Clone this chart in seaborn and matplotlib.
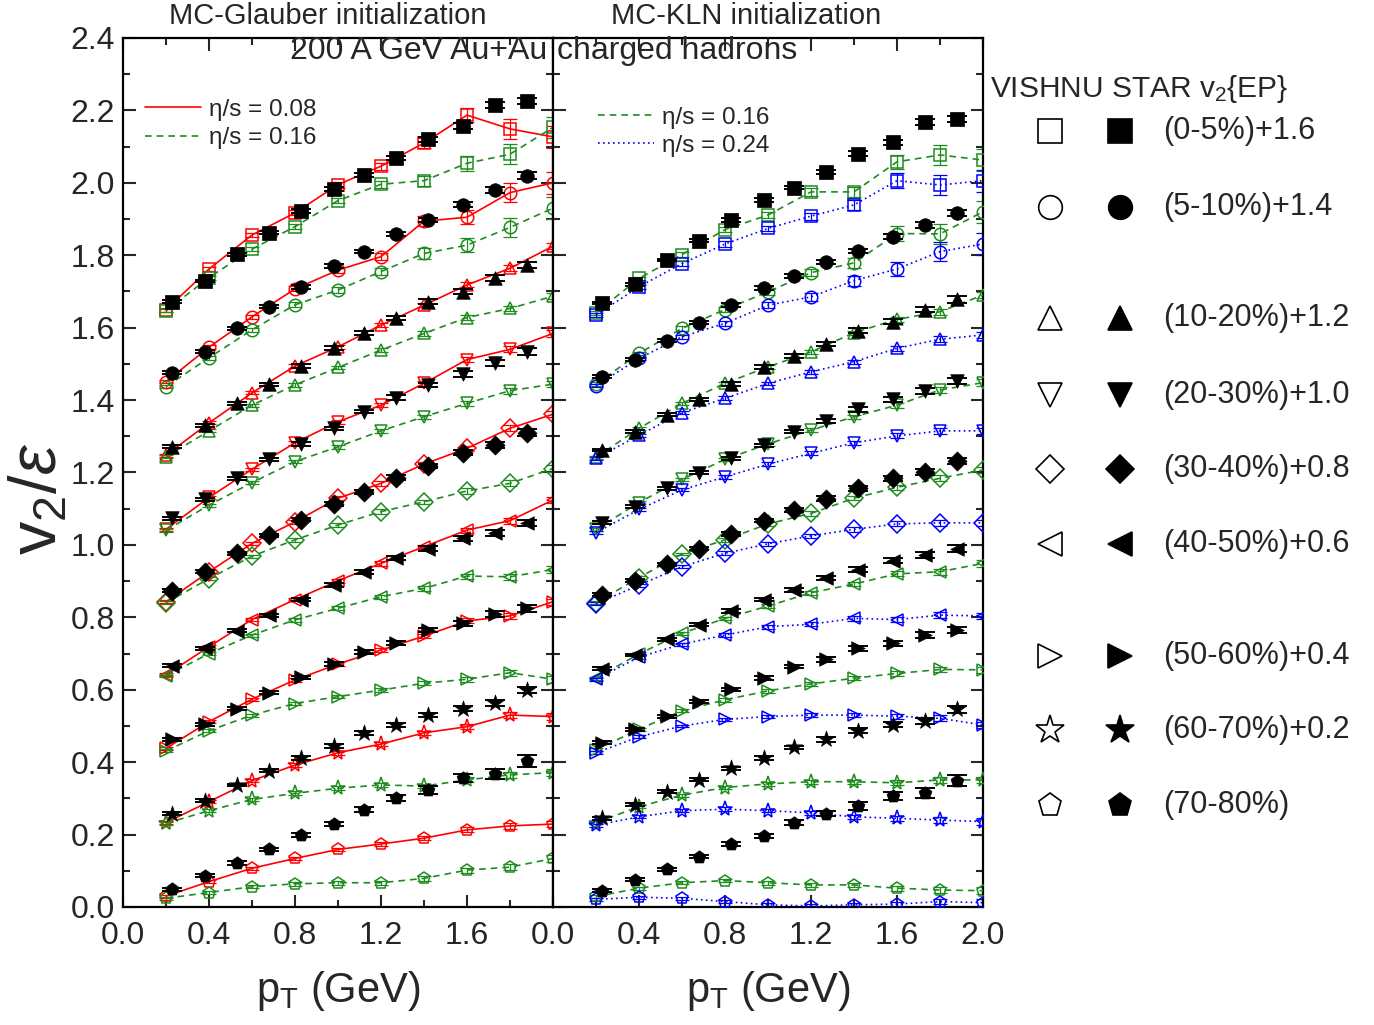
import matplotlib
matplotlib.use("Agg")
import matplotlib.pyplot as plt
import seaborn as sns
from matplotlib.lines import Line2D
from matplotlib.ticker import MultipleLocator, FormatStrFormatter

sns.set_theme(style="ticks")
plt.rcParams['font.family'] = ['Liberation Sans', 'DejaVu Sans']
plt.rcParams['mathtext.fontset'] = 'custom'
plt.rcParams['mathtext.rm'] = 'Liberation Sans'
plt.rcParams['mathtext.it'] = 'Liberation Sans:italic'

# ---------------- data ----------------
centralities = ['(0-5%)+1.6', '(5-10%)+1.4', '(10-20%)+1.2', '(20-30%)+1.0', '(30-40%)+0.8',
                '(40-50%)+0.6', '(50-60%)+0.4', '(60-70%)+0.2', '(70-80%)']
markers = ['s', 'o', '^', 'v', 'D', '<', '>', '*', 'p']

pt_theory = [0.2, 0.4, 0.6, 0.8, 1.0, 1.2, 1.4, 1.6, 1.8, 2.0]
pt_star = [0.23, 0.38, 0.53, 0.68, 0.83, 0.98, 1.12, 1.27, 1.42, 1.58, 1.73, 1.88]

glauber_eta008 = [
    [1.649, 1.762, 1.856, 1.917, 1.995, 2.046, 2.110, 2.187, 2.149, 2.127],
    [1.451, 1.546, 1.630, 1.707, 1.759, 1.796, 1.894, 1.905, 1.973, 2.000],
    [1.248, 1.337, 1.420, 1.494, 1.547, 1.607, 1.662, 1.718, 1.764, 1.825],
    [1.043, 1.131, 1.209, 1.282, 1.340, 1.386, 1.446, 1.512, 1.540, 1.584],
    [0.843, 0.926, 1.004, 1.064, 1.129, 1.170, 1.223, 1.267, 1.322, 1.361],
    [0.641, 0.719, 0.794, 0.849, 0.901, 0.949, 0.995, 1.041, 1.067, 1.124],
    [0.438, 0.512, 0.574, 0.627, 0.671, 0.710, 0.748, 0.790, 0.804, 0.843],
    [0.233, 0.291, 0.349, 0.392, 0.426, 0.450, 0.481, 0.498, 0.530, 0.526],
    [0.030, 0.070, 0.107, 0.134, 0.159, 0.174, 0.190, 0.213, 0.224, 0.229],
]
glauber_eta016 = [
    [1.647, 1.738, 1.817, 1.879, 1.951, 1.996, 2.006, 2.054, 2.079, 2.153],
    [1.437, 1.517, 1.594, 1.663, 1.704, 1.755, 1.805, 1.828, 1.877, 1.930],
    [1.243, 1.315, 1.386, 1.442, 1.490, 1.538, 1.584, 1.628, 1.653, 1.687],
    [1.040, 1.110, 1.172, 1.230, 1.271, 1.315, 1.354, 1.391, 1.426, 1.444],
    [0.840, 0.907, 0.969, 1.014, 1.055, 1.092, 1.119, 1.149, 1.170, 1.211],
    [0.638, 0.700, 0.751, 0.793, 0.825, 0.857, 0.880, 0.914, 0.912, 0.932],
    [0.431, 0.487, 0.530, 0.562, 0.581, 0.599, 0.618, 0.629, 0.647, 0.629],
    [0.231, 0.266, 0.297, 0.314, 0.328, 0.337, 0.334, 0.351, 0.365, 0.371],
    [0.024, 0.040, 0.056, 0.064, 0.067, 0.067, 0.079, 0.102, 0.110, 0.134],
]
kln_eta016 = [
    [1.641, 1.736, 1.802, 1.871, 1.911, 1.975, 1.975, 2.058, 2.077, 2.063],
    [1.444, 1.529, 1.598, 1.650, 1.699, 1.752, 1.779, 1.860, 1.859, 1.920],
    [1.242, 1.322, 1.391, 1.446, 1.492, 1.533, 1.586, 1.623, 1.644, 1.690],
    [1.043, 1.117, 1.181, 1.236, 1.279, 1.317, 1.354, 1.386, 1.428, 1.448],
    [0.840, 0.910, 0.975, 1.014, 1.058, 1.087, 1.129, 1.159, 1.184, 1.207],
    [0.632, 0.699, 0.756, 0.797, 0.831, 0.868, 0.892, 0.920, 0.926, 0.949],
    [0.434, 0.491, 0.542, 0.572, 0.597, 0.616, 0.632, 0.645, 0.656, 0.655],
    [0.233, 0.277, 0.309, 0.330, 0.340, 0.346, 0.346, 0.343, 0.351, 0.351],
    [0.029, 0.052, 0.067, 0.073, 0.067, 0.061, 0.061, 0.052, 0.047, 0.045],
]
kln_eta024 = [
    [1.635, 1.713, 1.777, 1.831, 1.874, 1.908, 1.939, 2.006, 1.994, 2.006],
    [1.440, 1.515, 1.575, 1.612, 1.662, 1.685, 1.730, 1.762, 1.810, 1.831],
    [1.239, 1.303, 1.365, 1.405, 1.446, 1.478, 1.506, 1.543, 1.568, 1.580],
    [1.034, 1.098, 1.152, 1.188, 1.223, 1.253, 1.282, 1.301, 1.315, 1.315],
    [0.837, 0.889, 0.940, 0.977, 1.003, 1.025, 1.043, 1.058, 1.061, 1.061],
    [0.629, 0.690, 0.726, 0.751, 0.774, 0.781, 0.797, 0.794, 0.806, 0.804],
    [0.426, 0.470, 0.500, 0.518, 0.526, 0.530, 0.530, 0.527, 0.521, 0.503],
    [0.226, 0.249, 0.266, 0.270, 0.266, 0.260, 0.249, 0.245, 0.240, 0.236],
    [0.021, 0.027, 0.024, 0.015, 0.006, 0.003, 0.006, 0.008, 0.015, 0.012],
]
star_glauber = [
    [1.672, 1.729, 1.803, 1.862, 1.923, 1.983, 2.022, 2.068, 2.120, 2.157, 2.215, 2.226],
    [1.475, 1.533, 1.598, 1.658, 1.713, 1.771, 1.810, 1.859, 1.897, 1.939, 1.980, 2.020],
    [1.271, 1.331, 1.391, 1.444, 1.494, 1.543, 1.586, 1.626, 1.672, 1.699, 1.738, 1.773],
    [1.073, 1.126, 1.184, 1.236, 1.279, 1.322, 1.368, 1.407, 1.442, 1.472, 1.503, 1.534],
    [0.873, 0.926, 0.977, 1.027, 1.070, 1.113, 1.147, 1.186, 1.218, 1.255, 1.276, 1.310],
    [0.666, 0.714, 0.763, 0.806, 0.849, 0.889, 0.926, 0.963, 0.990, 1.018, 1.034, 1.060],
    [0.463, 0.505, 0.548, 0.592, 0.634, 0.671, 0.705, 0.730, 0.765, 0.783, 0.809, 0.825],
    [0.257, 0.293, 0.337, 0.376, 0.411, 0.445, 0.480, 0.503, 0.530, 0.548, 0.564, 0.599],
    [0.049, 0.086, 0.122, 0.159, 0.199, 0.229, 0.268, 0.300, 0.323, 0.355, 0.367, 0.404],
]
star_kln = [
    [1.668, 1.720, 1.787, 1.840, 1.897, 1.952, 1.987, 2.030, 2.081, 2.112, 2.167, 2.176],
    [1.465, 1.512, 1.564, 1.614, 1.662, 1.709, 1.743, 1.782, 1.812, 1.851, 1.883, 1.917],
    [1.262, 1.313, 1.359, 1.402, 1.444, 1.492, 1.522, 1.555, 1.592, 1.616, 1.650, 1.678],
    [1.061, 1.105, 1.156, 1.199, 1.239, 1.275, 1.313, 1.343, 1.374, 1.402, 1.426, 1.453],
    [0.862, 0.901, 0.947, 0.990, 1.030, 1.067, 1.096, 1.128, 1.156, 1.184, 1.202, 1.232],
    [0.658, 0.696, 0.739, 0.779, 0.818, 0.849, 0.875, 0.908, 0.932, 0.956, 0.972, 0.990],
    [0.454, 0.491, 0.527, 0.567, 0.601, 0.632, 0.664, 0.684, 0.714, 0.728, 0.751, 0.765],
    [0.245, 0.282, 0.318, 0.352, 0.383, 0.411, 0.441, 0.463, 0.487, 0.503, 0.514, 0.546],
    [0.045, 0.075, 0.104, 0.139, 0.174, 0.196, 0.233, 0.258, 0.279, 0.307, 0.316, 0.349],
]
# statistical errors
star_err = [0.004, 0.004, 0.004, 0.004, 0.005, 0.005, 0.005, 0.006, 0.006, 0.007, 0.008, 0.009]
star_err_peripheral = [0.004, 0.004, 0.005, 0.005, 0.006, 0.006, 0.007, 0.008, 0.010, 0.011, 0.014, 0.016]
theory_err = [0.004, 0.004, 0.004, 0.005, 0.005, 0.006, 0.006, 0.007, 0.008, 0.009]
theory_err_central = [0.005, 0.005, 0.006, 0.007, 0.008, 0.010, 0.014, 0.020, 0.027, 0.030]

RED = '#ff0000'
GREEN = '#1e8c1e'
BLUE = '#0000ff'

# ---------------- figure ----------------
fig = plt.figure(figsize=(13.74, 10.25), dpi=100)
W, H = 1374, 1025
x0, x1, x2 = 123, 553, 983
ytop, ybot = 38, 907
axL = fig.add_axes([x0 / W, 1 - ybot / H, (x1 - x0) / W, (ybot - ytop) / H])
axR = fig.add_axes([x1 / W, 1 - ybot / H, (x2 - x1) / W, (ybot - ytop) / H], sharey=axL)


def draw_theory(ax, values, color, ls, central_idx=(0, 1)):
    for i, (vals, m) in enumerate(zip(values, markers)):
        err = theory_err_central if i in central_idx else theory_err
        ax.errorbar(pt_theory, vals, yerr=err, fmt='none', ecolor=color, elinewidth=0.9,
                    capsize=5, capthick=0.9, zorder=2)
        sns.lineplot(x=pt_theory, y=vals, ax=ax, color=color, linestyle=ls, lw=1.2,
                     marker=m, markersize=9 if m != '*' else 11, markerfacecolor='none',
                     markeredgecolor=color, markeredgewidth=1.1, errorbar=None, zorder=3)


def draw_star(ax, values):
    for i, (vals, m) in enumerate(zip(values, markers)):
        err = star_err_peripheral if i == 8 else star_err
        ax.errorbar(pt_star, vals, yerr=err, fmt='none', ecolor='black', elinewidth=1.2,
                    capsize=7, capthick=1.4, zorder=4)
        sns.scatterplot(x=pt_star, y=vals, ax=ax, marker=m, color='black',
                        s=95 if m != '*' else 150, edgecolor='black', linewidth=0.5, zorder=5)


draw_theory(axL, glauber_eta008, RED, '-')
draw_theory(axL, glauber_eta016, GREEN, (0, (4, 3)))
draw_star(axL, star_glauber)
draw_theory(axR, kln_eta016, GREEN, (0, (4, 3)))
draw_theory(axR, kln_eta024, BLUE, (0, (1, 2)))
draw_star(axR, star_kln)

for ax in (axL, axR):
    ax.set_xlim(0, 2.0)
    ax.set_ylim(0, 2.4)
    ax.xaxis.set_major_locator(MultipleLocator(0.4))
    ax.xaxis.set_minor_locator(MultipleLocator(0.2))
    ax.yaxis.set_major_locator(MultipleLocator(0.2))
    ax.yaxis.set_minor_locator(MultipleLocator(0.1))
    ax.tick_params(which='both', direction='in', top=True, right=True, width=1.5,
                   labelsize=23)
    ax.tick_params(axis='x', pad=10)
    ax.tick_params(axis='y', pad=6)
    ax.tick_params(which='major', length=9)
    ax.tick_params(which='minor', length=5)
    for sp in ax.spines.values():
        sp.set_linewidth(1.6)
        sp.set_color('black')
    ax.set_xlabel('p$_\\mathrm{T}$ (GeV)', fontsize=30, labelpad=13)
    ax.set_ylabel('')

axL.set_xticks([0.0, 0.4, 0.8, 1.2, 1.6])
axL.xaxis.set_major_formatter(FormatStrFormatter('%.1f'))
axR.xaxis.set_major_formatter(FormatStrFormatter('%.1f'))
axL.yaxis.set_major_formatter(FormatStrFormatter('%.1f'))
axR.tick_params(labelleft=False)
axL.set_ylabel('v$_2$/$\\mathit{\\varepsilon}$', fontsize=48)
axL.yaxis.set_label_coords(-0.123, 0.47)

# line legends inside panels
axL.legend(handles=[Line2D([], [], color=RED, lw=1.2, ls='-'),
                    Line2D([], [], color=GREEN, lw=1.2, ls=(0, (4, 3)))],
           labels=['η/s = 0.08', 'η/s = 0.16'], loc='upper left',
           bbox_to_anchor=(0.0, 0.955), frameon=False, fontsize=17.5,
           handlelength=2.3, handletextpad=0.35, labelspacing=0.25)
axR.legend(handles=[Line2D([], [], color=GREEN, lw=1.2, ls=(0, (4, 3))),
                    Line2D([], [], color=BLUE, lw=1.2, ls=(0, (1, 2)))],
           labels=['η/s = 0.16', 'η/s = 0.24'], loc='upper left',
           bbox_to_anchor=(0.053, 0.946), frameon=False, fontsize=17.5,
           handlelength=2.3, handletextpad=0.35, labelspacing=0.25)

# titles
fig.text(328 / W, 1 - 16 / H, 'MC-Glauber initialization', fontsize=21, ha='center', va='center')
fig.text(746 / W, 1 - 16 / H, 'MC-KLN initialization', fontsize=21, ha='center', va='center')
fig.text(547 / W, 1 - 51 / H, '200 A GeV Au+Au', fontsize=23, ha='right', va='center', zorder=10)
fig.text(557 / W, 1 - 51 / H, 'charged hadrons', fontsize=23, ha='left', va='center', zorder=10)

# centrality legend (right side)
fig.text(990 / W, 1 - 89 / H, 'VISHNU STAR v$_2${EP}', fontsize=21.5, ha='left', va='center')
legax = fig.add_axes([0, 0, 1, 1], facecolor='none')
legax.set_xlim(0, W)
legax.set_ylim(H, 0)
legax.axis('off')
rows_y = [131, 207, 318, 395, 469, 544, 656, 730, 805]
for yy, m, lab in zip(rows_y, markers, centralities):
    ms = 17 if m != '*' else 21
    if m == 'D':
        ms = 14
    legax.plot([1050], [yy], marker=m, ms=ms, mfc='none', mec='black', mew=1.2, ls='none')
    legax.plot([1120], [yy], marker=m, ms=ms, mfc='black', mec='black', mew=1.2, ls='none')
    legax.text(1163, yy, lab, fontsize=22, ha='left', va='center')

fig.savefig('out.png', dpi=100)
